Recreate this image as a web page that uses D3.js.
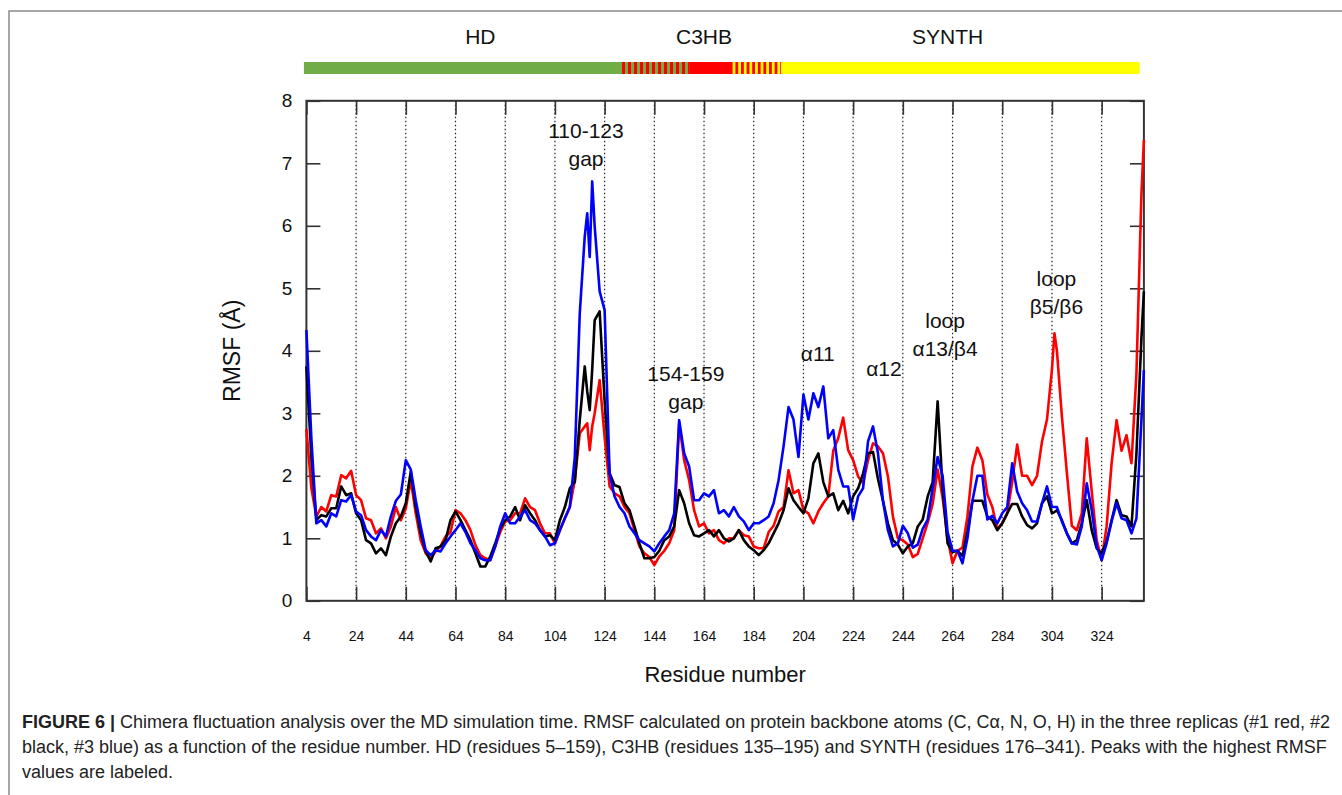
<!DOCTYPE html>
<html>
<head>
<meta charset="utf-8">
<script src="https://cdn.jsdelivr.net/npm/d3@7"></script>
<style>
body { margin: 0; background: #fff; }
svg { display: block; font-family: "Liberation Sans", Arial, sans-serif; }
</style>
</head>
<body>
<script>
// Residue numbers (x) shared by the three replicas.
var residues = [
    4, 6, 8, 10, 12, 14, 16, 18, 20, 22,
    24, 26, 28, 30, 32, 34, 36, 38, 40, 42,
    44, 46, 48, 50, 52, 54, 56, 58, 60, 62,
    64, 66, 68, 70, 72, 74, 76, 78, 80, 82,
    84, 86, 88, 90, 92, 94, 96, 98, 100, 102,
    104, 106, 108, 110, 112, 114, 116, 117, 118, 119,
    120, 122, 124, 126, 128, 130, 132, 134, 136, 138,
    140, 142, 144, 146, 148, 150, 152, 154, 156, 158,
    160, 162, 164, 166, 168, 170, 172, 174, 176, 178,
    180, 182, 184, 186, 188, 190, 192, 194, 196, 198,
    200, 202, 204, 206, 208, 210, 212, 214, 216, 218,
    220, 222, 224, 226, 228, 230, 232, 234, 236, 238,
    240, 242, 244, 246, 248, 250, 252, 254, 256, 258,
    260, 262, 264, 266, 268, 270, 272, 274, 276, 278,
    280, 282, 284, 286, 288, 290, 292, 294, 296, 298,
    300, 302, 304, 305, 306, 308, 310, 312, 314, 316,
    318, 320, 322, 324, 326, 328, 330, 332, 334, 336,
    338, 340, 341];

// RMSF (Å), replica #1 (red)
var rouge = [
    2.75, 1.8, 1.35, 1.5, 1.43, 1.69, 1.67, 2.01, 1.96, 2.08,
    1.69, 1.61, 1.32, 1.29, 1.08, 1.16, 1.0, 1.19, 1.5, 1.29,
    1.48, 1.93, 1.4, 0.97, 0.76, 0.68, 0.79, 0.87, 1.03, 1.1,
    1.45, 1.4, 1.29, 1.13, 0.89, 0.73, 0.68, 0.65, 0.87, 1.1,
    1.27, 1.29, 1.4, 1.4, 1.64, 1.5, 1.45, 1.24, 1.08, 1.08,
    0.92, 1.13, 1.32, 1.5, 1.93, 2.68, 2.79, 2.84, 2.41, 2.79,
    3.0, 3.53, 2.62, 1.83, 1.72, 1.67, 1.5, 1.4, 1.13, 0.87,
    0.76, 0.7, 0.57, 0.71, 0.8, 0.92, 1.13, 2.84, 2.25, 1.93,
    1.45, 1.19, 1.24, 1.08, 1.13, 0.97, 0.92, 1.0, 1.0, 1.13,
    1.05, 1.03, 0.87, 0.84, 0.84, 1.1, 1.2, 1.43, 1.5, 2.09,
    1.72, 1.77, 1.45, 1.4, 1.24, 1.43, 1.56, 1.67, 2.4, 2.6,
    2.93, 2.41, 2.25, 1.99, 1.88, 2.25, 2.52, 2.47, 2.36, 1.99,
    1.35, 1.0, 0.97, 0.9, 0.7, 0.75, 1.0, 1.25, 1.55, 2.1,
    1.65, 1.0, 0.6, 0.8, 0.85, 1.35, 2.15, 2.45, 2.25, 1.7,
    1.5, 1.15, 1.24, 1.4, 1.9, 2.5, 2.0, 2.0, 1.85, 2.0,
    2.55, 2.9, 3.7, 4.28, 4.0, 2.95, 2.05, 1.2, 1.13, 1.4,
    2.6, 1.75, 0.97, 0.65, 1.19, 2.2, 2.89, 2.4, 2.65, 2.2,
    3.64, 6.5, 7.37];

// replica #2 (black)
var noir = [
    3.75, 2.3, 1.29, 1.37, 1.35, 1.48, 1.48, 1.83, 1.69, 1.72,
    1.4, 1.29, 0.97, 0.92, 0.76, 0.84, 0.73, 1.03, 1.24, 1.35,
    1.56, 2.07, 1.5, 1.08, 0.79, 0.63, 0.84, 0.87, 0.97, 1.29,
    1.43, 1.29, 1.13, 0.97, 0.76, 0.55, 0.55, 0.71, 0.92, 1.16,
    1.29, 1.35, 1.5, 1.29, 1.53, 1.4, 1.29, 1.13, 1.03, 1.05,
    0.97, 1.29, 1.5, 1.8, 1.9, 2.89, 3.75, 3.35, 3.05, 3.7,
    4.49, 4.63, 3.2, 2.04, 1.85, 1.82, 1.56, 1.45, 1.19, 0.92,
    0.68, 0.68, 0.7, 0.8, 0.97, 1.03, 1.19, 1.77, 1.56, 1.24,
    1.05, 1.03, 1.08, 1.13, 1.03, 1.13, 1.0, 0.95, 1.0, 1.13,
    0.97, 0.87, 0.81, 0.73, 0.81, 0.92, 1.08, 1.24, 1.45, 1.8,
    1.61, 1.5, 1.4, 1.64, 2.2, 2.36, 1.9, 1.67, 1.72, 1.45,
    1.6, 1.4, 1.67, 1.8, 2.04, 2.36, 2.38, 1.95, 1.6, 1.24,
    0.97, 0.9, 0.76, 0.87, 0.92, 1.19, 1.3, 1.67, 1.9, 3.19,
    1.8, 0.92, 0.78, 0.8, 0.72, 1.1, 1.6, 1.6, 1.6, 1.35,
    1.29, 1.13, 1.24, 1.4, 1.55, 1.55, 1.35, 1.21, 1.16, 1.24,
    1.56, 1.67, 1.4, 1.42, 1.45, 1.29, 1.08, 0.92, 0.97, 1.24,
    1.61, 1.13, 0.84, 0.76, 0.95, 1.29, 1.61, 1.37, 1.35, 1.19,
    2.36, 4.2, 4.95];

// replica #3 (blue)
var bleu = [
    4.33, 2.6, 1.24, 1.29, 1.19, 1.4, 1.35, 1.61, 1.59, 1.69,
    1.43, 1.37, 1.13, 1.03, 0.97, 1.13, 1.03, 1.35, 1.6, 1.7,
    2.25, 2.1, 1.61, 1.19, 0.81, 0.73, 0.81, 0.79, 0.92, 1.03,
    1.13, 1.24, 1.1, 0.92, 0.81, 0.68, 0.65, 0.65, 0.87, 1.19,
    1.4, 1.24, 1.24, 1.35, 1.45, 1.29, 1.24, 1.13, 1.03, 0.89,
    0.92, 1.13, 1.32, 1.5, 2.3, 4.6, 5.83, 6.2, 5.5, 6.71,
    5.99, 4.95, 4.65, 2.04, 1.67, 1.5, 1.4, 1.19, 1.08, 0.97,
    0.92, 0.87, 0.79, 0.92, 1.03, 1.13, 1.4, 2.89, 2.36, 2.15,
    1.61, 1.61, 1.72, 1.67, 1.77, 1.4, 1.45, 1.35, 1.5, 1.35,
    1.27, 1.13, 1.24, 1.24, 1.29, 1.35, 1.56, 1.93, 2.47, 3.1,
    2.9, 2.3, 3.3, 2.9, 3.32, 3.1, 3.43, 2.6, 2.73, 2.1,
    1.83, 1.83, 1.3, 1.67, 1.8, 2.55, 2.79, 2.36, 1.6, 1.13,
    0.87, 0.92, 1.2, 1.08, 0.85, 0.9, 1.15, 1.3, 1.8, 2.3,
    2.0, 1.1, 0.8, 0.8, 0.6, 1.0, 1.6, 2.0, 2.0, 1.3,
    1.36, 1.24, 1.4, 1.5, 2.2, 1.75, 1.56, 1.45, 1.27, 1.27,
    1.56, 1.83, 1.5, 1.5, 1.5, 1.27, 1.08, 0.92, 0.9, 1.19,
    1.88, 1.45, 0.87, 0.65, 0.92, 1.27, 1.56, 1.32, 1.29, 1.08,
    1.32, 2.89, 3.69];

var xTicks = [4, 24, 44, 64, 84, 104, 124, 144, 164, 184, 204, 224, 244, 264, 284, 304, 324];
var yTicks = [0, 1, 2, 3, 4, 5, 6, 7, 8];

// Domain bar (residue ranges as drawn on the top bar)
var domaines = ["HD", "C3HB", "SYNTH"];
var domDebut = [3, 131, 175.5];
var domFin = [158, 195, 339.3];
var domLabelRes = [74, 164, 262];

// Peak labels: lines, residue and RMSF of the first line
var pics = [["110-123", "gap"], ["154-159", "gap"], ["α11"], ["α12"], ["loop", "α13/β4"], ["loop", "β5/β6"]];
var picRes = [116.5, 156.7, 209.8, 236.4, 261, 305.8];
var picVal = [7.52, 3.63, 3.95, 3.71, 4.49, 5.15];

var legende = [
    "Chimera fluctuation analysis over the MD simulation time. RMSF calculated on protein backbone atoms (C, Cα, N, O, H) in the three replicas (#1 red, #2",
    "black, #3 blue) as a function of the residue number. HD (residues 5–159), C3HB (residues 135–195) and SYNTH (residues 176–341). Peaks with the highest RMSF",
    "values are labeled."];

var W = 1342, H = 795;
var plot = {left: 306.4, right: 1143.9, top: 100.8, bottom: 600.8};
var couleurs = {HD: "#70ad47", C3HB: "#ff0000", SYNTH: "#ffff00"};

var svg = d3.select("body").append("svg")
    .attr("width", W)
    .attr("height", H);

// cadre de la figure
svg.append("path")
    .attr("d", "M9," + H + "V11H" + W)
    .attr("fill", "none")
    .attr("stroke", "#8a8a8a")
    .attr("stroke-width", 1.5);

var x = d3.scaleLinear().domain([4, 341]).range([plot.left, plot.right]);
var y = d3.scaleLinear().domain([0, 8]).range([plot.bottom, plot.top]);

// Top domain bar
var defs = svg.append("defs");
function rayures(id, c1, c2, period) {
    var p = defs.append("pattern")
        .attr("id", id)
        .attr("patternUnits", "userSpaceOnUse")
        .attr("width", period)
        .attr("height", 20);
    p.append("rect").attr("width", period).attr("height", 20).attr("fill", c2);
    p.append("rect").attr("width", period / 2).attr("height", 20).attr("fill", c1);
    return p;
}

var bornes = Array.from(new Set(domDebut.concat(domFin))).sort(d3.ascending);
var barY = 62, barH = 12;
for (var i = 0; i < bornes.length - 1; i++) {
    var a = bornes[i], b = bornes[i + 1], mid = (a + b) / 2;
    var actifs = domaines.filter(function (d, k) { return mid >= domDebut[k] && mid <= domFin[k]; });
    var fill;
    if (actifs.length === 1) {
        fill = couleurs[actifs[0]];
    } else {
        var id = "stripe" + i;
        var period = actifs[0] === "HD" ? 6 : 5.6;
        var c1 = actifs[0] === "HD" ? couleurs.C3HB : couleurs.SYNTH;
        var c2 = actifs[0] === "HD" ? couleurs.HD : couleurs.C3HB;
        rayures(id, c1, c2, period).attr("patternTransform", "translate(" + x(a) + ",0)");
        fill = "url(#" + id + ")";
    }
    svg.append("rect")
        .attr("x", x(a))
        .attr("y", barY)
        .attr("width", x(b) - x(a))
        .attr("height", barH)
        .attr("fill", fill);
}

svg.selectAll(".domlabel")
    .data(domaines)
    .enter().append("text")
    .attr("x", function (d, k) { return x(domLabelRes[k]); })
    .attr("y", 44)
    .attr("text-anchor", "middle")
    .attr("font-size", 21)
    .attr("fill", "#111")
    .text(function (d) { return d; });

// dotted vertical grid
svg.selectAll(".grid")
    .data(xTicks.slice(1))
    .enter().append("line")
    .attr("x1", function (d) { return x(d); })
    .attr("x2", function (d) { return x(d); })
    .attr("y1", plot.top)
    .attr("y2", plot.bottom)
    .attr("stroke", "#222")
    .attr("stroke-width", 1.2)
    .attr("stroke-dasharray", "1.5,2.5");

// axes with inward ticks on all four sides
function styleAxe(g) {
    g.select(".domain").remove();
    g.selectAll(".tick line").attr("stroke", "#333").attr("stroke-width", 1.6);
    g.selectAll("text").attr("fill", "#111").attr("font-family", "Liberation Sans, Arial, sans-serif");
}

svg.append("g")
    .attr("transform", "translate(0," + plot.bottom + ")")
    .call(d3.axisBottom(x).tickValues(xTicks).tickSizeInner(-14).tickSizeOuter(0).tickPadding(30).tickFormat(d3.format("d")))
    .call(styleAxe)
    .selectAll("text").attr("font-size", 14);

svg.append("g")
    .attr("transform", "translate(0," + plot.top + ")")
    .call(d3.axisTop(x).tickValues(xTicks).tickSizeInner(-14).tickSizeOuter(0).tickFormat(""))
    .call(styleAxe);

svg.append("g")
    .attr("transform", "translate(" + plot.left + ",0)")
    .call(d3.axisLeft(y).tickValues(yTicks).tickSizeInner(-14).tickSizeOuter(0).tickPadding(14).tickFormat(d3.format("d")))
    .call(styleAxe)
    .selectAll("text").attr("font-size", 19);

svg.append("g")
    .attr("transform", "translate(" + plot.right + ",0)")
    .call(d3.axisRight(y).tickValues(yTicks).tickSizeInner(-14).tickSizeOuter(0).tickFormat(""))
    .call(styleAxe);

svg.append("rect")
    .attr("x", plot.left)
    .attr("y", plot.top)
    .attr("width", plot.right - plot.left)
    .attr("height", plot.bottom - plot.top)
    .attr("fill", "none")
    .attr("stroke", "#333")
    .attr("stroke-width", 2);

// RMSF curves
var ligne = d3.line()
    .x(function (d, k) { return x(residues[k]); })
    .y(function (d) { return y(d); });

[[rouge, "#ff0000"], [noir, "#000000"], [bleu, "#0000ff"]].forEach(function (s) {
    svg.append("path")
        .datum(s[0])
        .attr("d", ligne)
        .attr("fill", "none")
        .attr("stroke", s[1])
        .attr("stroke-width", 2.6)
        .attr("stroke-linejoin", "round");
});

// peak labels
pics.forEach(function (lignes, k) {
    var t = svg.append("text")
        .attr("text-anchor", "middle")
        .attr("font-size", 21)
        .attr("fill", "#111");
    lignes.forEach(function (l, j) {
        t.append("tspan")
            .attr("x", x(picRes[k]))
            .attr("y", y(picVal[k]) + j * 28)
            .attr("dy", "0.35em")
            .text(l);
    });
});

// axis titles
svg.append("text")
    .attr("x", (plot.left + plot.right) / 2)
    .attr("y", 682)
    .attr("text-anchor", "middle")
    .attr("font-size", 22)
    .attr("fill", "#111")
    .text("Residue number");

svg.append("text")
    .attr("transform", "translate(240," + ((plot.top + plot.bottom) / 2) + ") rotate(-90)")
    .attr("text-anchor", "middle")
    .attr("font-size", 23)
    .attr("fill", "#111")
    .text("RMSF (Å)");

// caption
var cap = svg.append("g")
    .attr("font-size", 18)
    .attr("fill", "#222");

legende.forEach(function (txt, k) {
    var t = cap.append("text").attr("x", 22).attr("y", 728 + k * 25);
    if (k === 0) {
        t.append("tspan").attr("font-weight", "bold").text("FIGURE 6 | ");
    }
    t.append("tspan").text(txt);
});
</script>
</body>
</html>
